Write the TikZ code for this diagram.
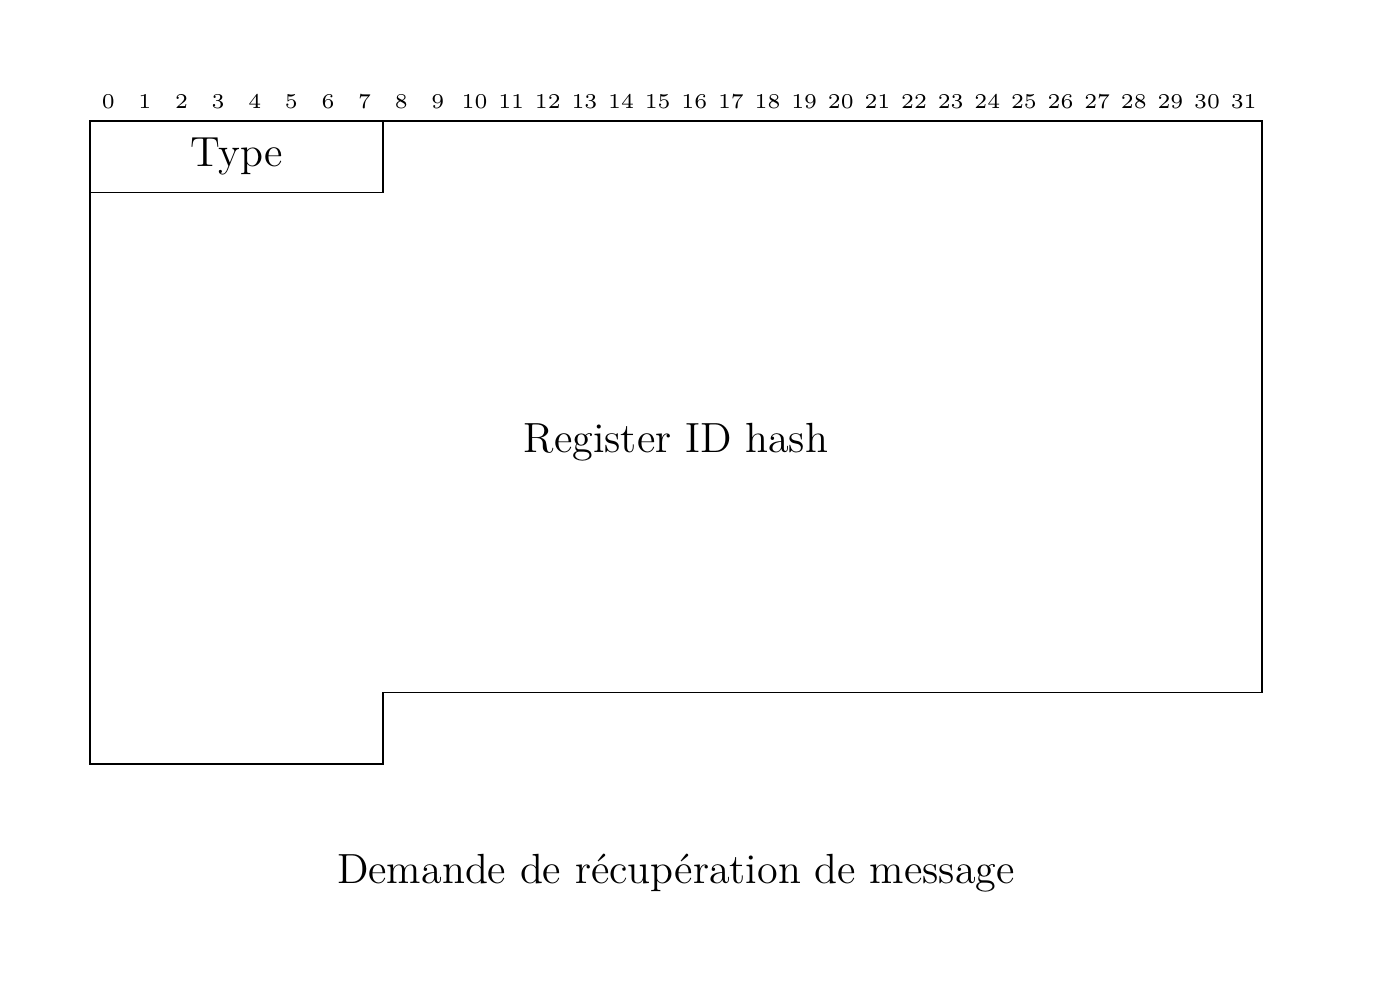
\documentclass[tikz,border=0pt,12pt]{standalone}
\usepackage{tikz}

\begin{document}
\begin{tikzpicture}[align=center, x=0.36625cm, y=0.7144cm]

\useasboundingbox (-2.457, 1.694) rectangle (35.167, -12.108);

\tikzset{bit/.style={font=\tiny, inner sep=0pt}}

\node[bit] (b0) at (0.5, 0.27) {0};
\node[bit] (b1) at (1.5, 0.27) {1};
\node[bit] (b2) at (2.5, 0.27) {2};
\node[bit] (b3) at (3.5, 0.27) {3};
\node[bit] (b4) at (4.5, 0.27) {4};
\node[bit] (b5) at (5.5, 0.27) {5};
\node[bit] (b6) at (6.5, 0.27) {6};
\node[bit] (b7) at (7.5, 0.27) {7};
\node[bit] (b8) at (8.5, 0.27) {8};
\node[bit] (b9) at (9.5, 0.27) {9};
\node[bit] (b10) at (10.5, 0.27) {10};
\node[bit] (b11) at (11.5, 0.27) {11};
\node[bit] (b12) at (12.5, 0.27) {12};
\node[bit] (b13) at (13.5, 0.27) {13};
\node[bit] (b14) at (14.5, 0.27) {14};
\node[bit] (b15) at (15.5, 0.27) {15};
\node[bit] (b16) at (16.5, 0.27) {16};
\node[bit] (b17) at (17.5, 0.27) {17};
\node[bit] (b18) at (18.5, 0.27) {18};
\node[bit] (b19) at (19.5, 0.27) {19};
\node[bit] (b20) at (20.5, 0.27) {20};
\node[bit] (b21) at (21.5, 0.27) {21};
\node[bit] (b22) at (22.5, 0.27) {22};
\node[bit] (b23) at (23.5, 0.27) {23};
\node[bit] (b24) at (24.5, 0.27) {24};
\node[bit] (b25) at (25.5, 0.27) {25};
\node[bit] (b26) at (26.5, 0.27) {26};
\node[bit] (b27) at (27.5, 0.27) {27};
\node[bit] (b28) at (28.5, 0.27) {28};
\node[bit] (b29) at (29.5, 0.27) {29};
\node[bit] (b30) at (30.5, 0.27) {30};
\node[bit] (b31) at (31.5, 0.27) {31};

\node (type) at (4, -0.5) {Type};
\node (hash) at (16, -4.5) {Register ID hash};
\node (caption) at (16, -10.53) {Demande de r\'ecup\'eration de message};

\draw (0, 0) rectangle (8, -1);
\draw (8, 0) -- (32, 0) -- (32, -8) -- (8, -8) -- (8, -9) -- (0, -9) -- (0, -1);

\end{tikzpicture}
\end{document}
